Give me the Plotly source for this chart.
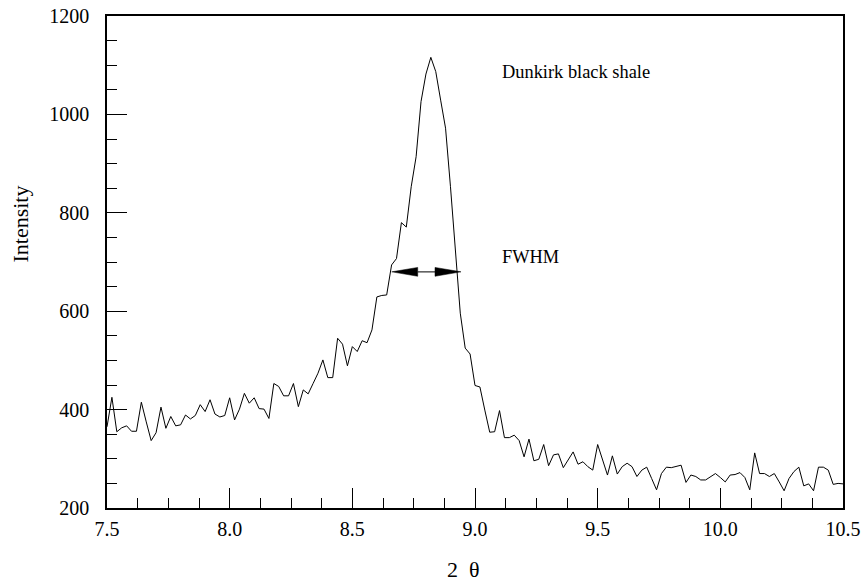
import plotly.graph_objects as go

two_theta = [
    7.50, 7.52, 7.54, 7.56, 7.58, 7.60, 7.62, 7.64, 7.66, 7.68,
    7.70, 7.72, 7.74, 7.76, 7.78, 7.80, 7.82, 7.84, 7.86, 7.88,
    7.90, 7.92, 7.94, 7.96, 7.98, 8.00, 8.02, 8.04, 8.06, 8.08,
    8.10, 8.12, 8.14, 8.16, 8.18, 8.20, 8.22, 8.24, 8.26, 8.28,
    8.30, 8.32, 8.34, 8.36, 8.38, 8.40, 8.42, 8.44, 8.46, 8.48,
    8.50, 8.52, 8.54, 8.56, 8.58, 8.60, 8.62, 8.64, 8.66, 8.68,
    8.70, 8.72, 8.74, 8.76, 8.78, 8.80, 8.82, 8.84, 8.86, 8.88,
    8.90, 8.92, 8.94, 8.96, 8.98, 9.00, 9.02, 9.04, 9.06, 9.08,
    9.10, 9.12, 9.14, 9.16, 9.18, 9.20, 9.22, 9.24, 9.26, 9.28,
    9.30, 9.32, 9.34, 9.36, 9.38, 9.40, 9.42, 9.44, 9.46, 9.48,
    9.50, 9.52, 9.54, 9.56, 9.58, 9.60, 9.62, 9.64, 9.66, 9.68,
    9.70, 9.72, 9.74, 9.76, 9.78, 9.80, 9.82, 9.84, 9.86, 9.88,
    9.90, 9.92, 9.94, 9.96, 9.98, 10.00, 10.02, 10.04, 10.06, 10.08,
    10.10, 10.12, 10.14, 10.16, 10.18, 10.20, 10.22, 10.24, 10.26, 10.28,
    10.30, 10.32, 10.34, 10.36, 10.38, 10.40, 10.42, 10.44, 10.46, 10.48,
    10.50,
]

intensity = [
    365, 425, 355, 363, 367, 356, 356, 415, 375, 337,
    353, 405, 362, 386, 367, 369, 389, 381, 388, 410,
    396, 420, 391, 385, 388, 424, 379, 401, 433, 413,
    424, 402, 401, 382, 453, 447, 428, 428, 453, 406,
    440, 432, 453, 474, 501, 465, 465, 545, 533, 489,
    528, 518, 540, 536, 562, 629, 632, 633, 694, 707,
    780, 771, 853, 914, 1026, 1082, 1116, 1087, 1029, 972,
    853, 731, 596, 525, 513, 449, 446, 399, 354, 355,
    398, 343, 343, 348, 337, 304, 340, 296, 299, 329,
    286, 308, 310, 282, 299, 314, 289, 294, 284, 277,
    329, 299, 267, 306, 269, 284, 291, 284, 264, 277,
    283, 260, 237, 270, 283, 282, 284, 287, 252, 267,
    264, 257, 257, 264, 270, 262, 253, 267, 268, 272,
    262, 237, 312, 270, 270, 264, 270, 253, 235, 260,
    274, 283, 245, 249, 235, 283, 283, 277, 248, 250,
    249,
]

x_tickvals = [7.5, 8.0, 8.5, 9.0, 9.5, 10.0, 10.5]
x_ticktext = ["7.5", "8.0", "8.5", "9.0", "9.5", "10.0", "10.5"]
y_tickvals = [200, 400, 600, 800, 1000, 1200]

x_title = "2\u2002θ"
y_title = "Intensity"
sample_label = "Dunkirk black shale"
fwhm_label = "FWHM"
fwhm_left, fwhm_right, fwhm_level = 8.6605, 8.943, 680

FONT = "Liberation Serif"

fig = go.Figure()
fig.add_trace(go.Scatter(
    x=two_theta, y=intensity, mode="lines",
    line=dict(color="black", width=1),
    showlegend=False, hoverinfo="skip",
))

# FWHM double arrow: thin connecting line + two long filled heads
head_len = 0.106   # in 2θ units (~26 px)
head_half = 9.0    # in intensity units (~4.5 px)
fig.add_shape(type="line", xref="x", yref="y",
              x0=fwhm_left + head_len, x1=fwhm_right - head_len,
              y0=fwhm_level, y1=fwhm_level,
              line=dict(color="#555555", width=1.5))
fig.add_shape(type="path", xref="x", yref="y",
              path=(f"M {fwhm_left},{fwhm_level} "
                    f"L {fwhm_left + head_len},{fwhm_level + head_half} "
                    f"L {fwhm_left + head_len},{fwhm_level - head_half} Z"),
              fillcolor="black", line=dict(color="black", width=0.5))
fig.add_shape(type="path", xref="x", yref="y",
              path=(f"M {fwhm_right},{fwhm_level} "
                    f"L {fwhm_right - head_len},{fwhm_level + head_half} "
                    f"L {fwhm_right - head_len},{fwhm_level - head_half} Z"),
              fillcolor="black", line=dict(color="black", width=0.5))

fig.add_annotation(x=9.102, y=1086, xref="x", yref="y", text=sample_label,
                   showarrow=False, xanchor="left", yanchor="middle",
                   font=dict(family=FONT, size=18.4, color="black"))
fig.add_annotation(x=9.102, y=710, xref="x", yref="y", text=fwhm_label,
                   showarrow=False, xanchor="left", yanchor="middle",
                   font=dict(family=FONT, size=18.4, color="black"))

# axis titles placed as annotations (reference centres them off the plot middle)
fig.add_annotation(x=0.485, y=-0.126, xref="paper", yref="paper", text=x_title,
                   showarrow=False, xanchor="center", yanchor="middle",
                   font=dict(family=FONT, size=22, color="black"))
fig.add_annotation(x=-0.117, y=0.578, xref="paper", yref="paper", text=y_title,
                   showarrow=False, xanchor="center", yanchor="middle", textangle=-90,
                   font=dict(family=FONT, size=22, color="black"))

fig.update_layout(
    width=865, height=581,
    margin=dict(l=107, r=22, t=16, b=73),
    paper_bgcolor="white", plot_bgcolor="white",
    font=dict(family=FONT, size=20, color="black"),
    xaxis=dict(
        range=[7.5, 10.5], tickmode="array", tickvals=x_tickvals, ticktext=x_ticktext,
        ticks="inside", ticklen=20, tickwidth=1, tickcolor="black",
        minor=dict(ticks="inside", ticklen=10, dtick=0.125, tick0=7.5,
                   tickcolor="black", tickwidth=1, showgrid=False),
        showline=True, linecolor="black", linewidth=1.5, mirror=True,
        showgrid=False, zeroline=False,
        tickfont=dict(family=FONT, size=20),
        ticklabelstandoff=2,
        automargin=False,
    ),
    yaxis=dict(
        range=[200, 1200], tickmode="array", tickvals=y_tickvals,
        ticks="inside", ticklen=20, tickwidth=1, tickcolor="black",
        minor=dict(ticks="inside", ticklen=10, dtick=50, tick0=200,
                   tickcolor="black", tickwidth=1, showgrid=False),
        showline=True, linecolor="black", linewidth=1.5, mirror=True,
        showgrid=False, zeroline=False,
        tickfont=dict(family=FONT, size=20),
        ticklabelstandoff=12,
        automargin=False,
    ),
)

fig.write_html("out.html")
